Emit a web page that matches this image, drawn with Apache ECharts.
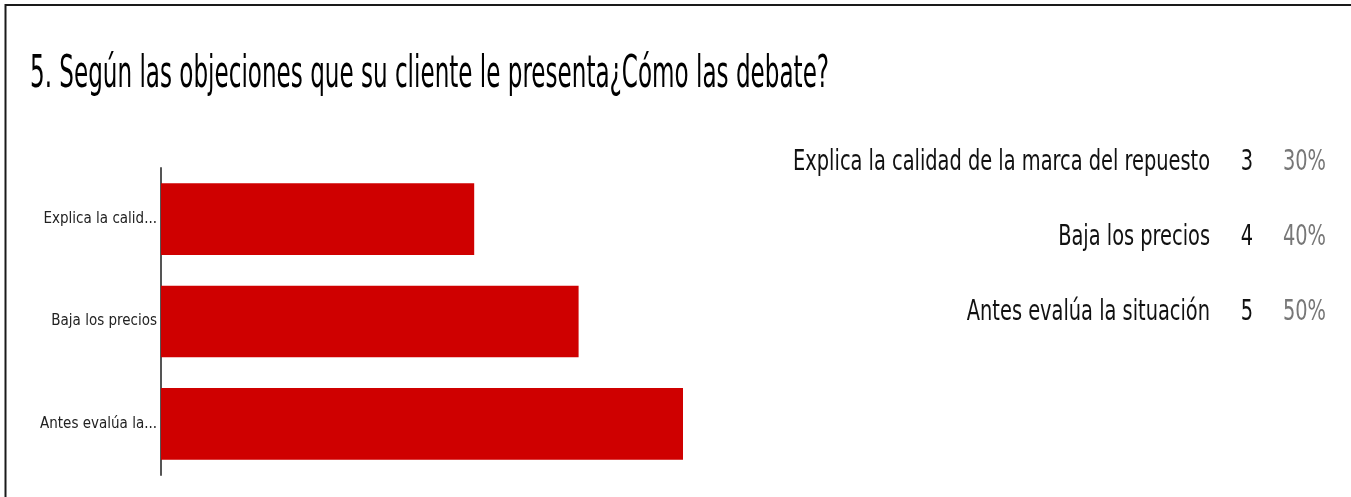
<!DOCTYPE html>
<html>
<head>
<meta charset="utf-8">
<script src="https://cdn.jsdelivr.net/npm/echarts@6/dist/echarts.min.js"></script>
<style>
  html, body { margin: 0; padding: 0; background: #fff; }
  #chart { width: 1351px; height: 497px; }
</style>
</head>
<body>
<div id="chart"></div>
<script>
// ---- data ----
const titleText = '5. Según las objeciones que su cliente le presenta¿Cómo las debate?';
const categories = ['Explica la calidad de la marca del repuesto', 'Baja los precios', 'Antes evalúa la situación'];
const counts = [3, 4, 5];
const percents = ['30%', '40%', '50%'];

const FONT = '"DejaVu Sans Condensed", "Liberation Sans Narrow", "Liberation Sans", sans-serif';

const chart = echarts.init(document.getElementById('chart'), null, { renderer: 'canvas' });

function shortLabel(v) {
  return v.length > 16 ? v.slice(0, 16).trim() + '...' : v;
}

// summary table (text) built from the data arrays
const tableRowTop = 162.5, tableRowStep = 75, tableScale = 0.743, tableFont = 29;
const tableGraphics = [];
categories.forEach(function (name, i) {
  const y = tableRowTop + i * tableRowStep;
  tableGraphics.push({
    type: 'text', x: 1210, y: y, scaleX: tableScale, silent: true,
    style: { text: name, fontFamily: FONT, fontSize: tableFont, fill: '#111', align: 'right', verticalAlign: 'middle' }
  });
  tableGraphics.push({
    type: 'text', x: 1247, y: y, scaleX: tableScale, silent: true,
    style: { text: String(counts[i]), fontFamily: FONT, fontSize: tableFont, fill: '#111', align: 'center', verticalAlign: 'middle' }
  });
  tableGraphics.push({
    type: 'text', x: 1326, y: y, scaleX: tableScale, silent: true,
    style: { text: percents[i], fontFamily: FONT, fontSize: tableFont, fill: '#777', align: 'right', verticalAlign: 'middle' }
  });
});

const option = {
  backgroundColor: '#ffffff',
  animation: false,
  graphic: [
    {
      type: 'polyline',
      shape: { points: [[5.5, 497], [5.5, 5], [1351, 5]] },
      style: { stroke: '#1a1a1a', lineWidth: 2, fill: null },
      silent: true
    },
    {
      type: 'text', x: 30, y: 76, scaleX: 0.583, silent: true,
      style: { text: titleText, fontFamily: FONT, fontSize: 44, fill: '#000', align: 'left', verticalAlign: 'middle' }
    }
  ].concat(tableGraphics),
  grid: { left: 161, top: 168, width: 522, height: 307 },
  xAxis: { type: 'value', min: 0, max: 5, show: false },
  yAxis: {
    type: 'category',
    inverse: true,
    data: categories,
    axisLine: { show: true, lineStyle: { color: '#555', width: 2 } },
    axisTick: { show: false },
    axisLabel: {
      margin: 4,
      fontFamily: FONT,
      fontSize: 15,
      color: '#222',
      formatter: shortLabel
    }
  },
  series: [{
    type: 'bar',
    data: counts,
    barCategoryGap: '30%',
    itemStyle: { color: '#cf0000' },
    emphasis: { disabled: true }
  }]
};
chart.setOption(option);
</script>
</body>
</html>
